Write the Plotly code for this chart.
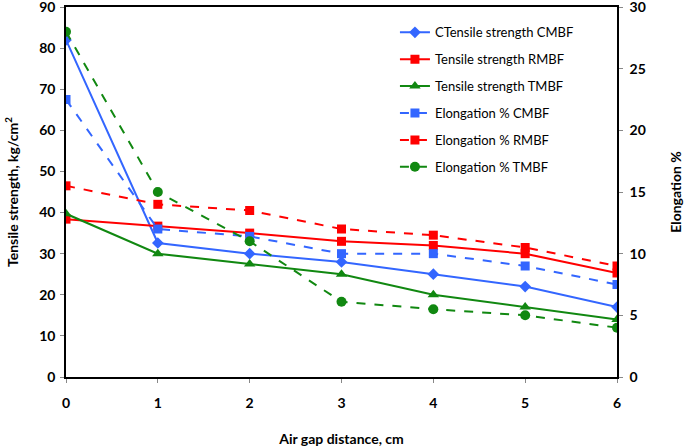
import plotly.graph_objects as go

gap = [0, 1, 2, 3, 4, 5, 6]

ts_cmbf = [82, 32.6, 30, 28, 25, 22, 17]
ts_rmbf = [38.4, 36.7, 35, 33, 32, 30, 25.3]
ts_tmbf = [39.7, 30, 27.5, 25, 20, 17, 14]

el_cmbf = [22.5, 12, 11.4, 10, 10, 9, 7.5]
el_rmbf = [15.5, 14, 13.5, 12, 11.5, 10.5, 9]
el_tmbf = [28, 15, 11, 6.1, 5.5, 5, 4]

names = ["CTensile strength CMBF", "Tensile strength RMBF", "Tensile strength TMBF",
         "Elongation % CMBF", "Elongation % RMBF", "Elongation % TMBF"]

blue = "#3366ff"
red = "#ff0000"
green = "#118811"

fig = go.Figure()

series = [
    (ts_cmbf, names[0], blue, "solid", "diamond", "y", 9),
    (ts_rmbf, names[1], red, "solid", "square", "y", 9),
    (ts_tmbf, names[2], green, "solid", "triangle-up", "y", 10),
    (el_cmbf, names[3], blue, "dash", "square", "y2", 9),
    (el_rmbf, names[4], red, "dash", "square", "y2", 9),
    (el_tmbf, names[5], green, "dash", "circle", "y2", 10),
]

for i, (vals, nm, col, dash, sym, ax, sz) in enumerate(series):
    fig.add_trace(go.Scatter(
        x=gap, y=vals, name=nm, yaxis=ax, mode="lines+markers",
        line=dict(color=col, width=2, dash=dash),
        marker=dict(symbol=sym, size=sz, color=col),
        legendgroup=str(i),
    ))

fig.update_layout(
    width=685, height=447,
    margin=dict(l=66, r=68, t=7, b=70),
    paper_bgcolor="white", plot_bgcolor="white",
    font=dict(family="Lato", size=13, color="black"),
    showlegend=True,
    legend=dict(x=0.597, y=0.972, xanchor="left", yanchor="top",
                bgcolor="rgba(0,0,0,0)", font=dict(size=13),
                tracegroupgap=7),
    xaxis=dict(range=[0, 6], tickvals=gap, showgrid=False, zeroline=False,
               showline=True, linecolor="black", linewidth=1.5, mirror=True,
               ticks="outside", ticklen=4, tickcolor="#888", automargin=False,
               ticklabelstandoff=8,
               tickfont=dict(size=14, weight="bold"),
               title=dict(text="<b>Air gap distance, cm</b>", font=dict(size=14), standoff=28)),
    yaxis=dict(range=[0, 90], dtick=10, showgrid=False, zeroline=False,
               showline=True, linecolor="black", linewidth=1.5,
               ticks="outside", ticklen=4, tickcolor="#888", automargin=False,
               ticklabeloverflow="allow", ticklabelstandoff=2,
               tickfont=dict(size=14, weight="bold"),
               title=dict(text="<b>Tensile strength, kg/cm<sup>2</sup></b>", font=dict(size=14), standoff=17)),
    yaxis2=dict(range=[0, 30], dtick=5, overlaying="y", side="right",
                showgrid=False, zeroline=False,
                showline=True, linecolor="black", linewidth=1.5,
                ticks="outside", ticklen=4, tickcolor="#888", automargin=False,
                ticklabeloverflow="allow", ticklabelstandoff=4,
                tickfont=dict(size=14, weight="bold"),
                title=dict(text="<b>Elongation %</b>", font=dict(size=14), standoff=26)),
)

fig.write_html("out.html", config={"displayModeBar": False},
               post_script="document.body.style.margin='0';")
